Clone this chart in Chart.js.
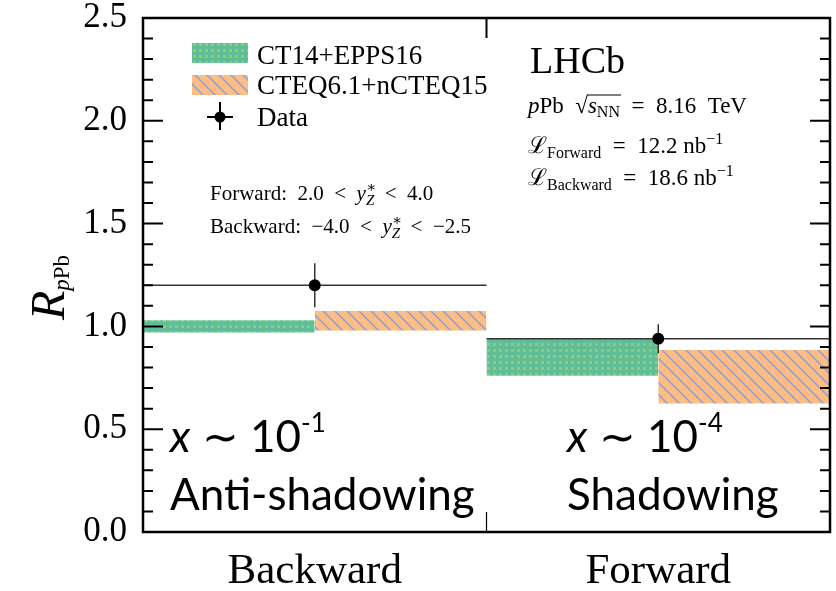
<!DOCTYPE html>
<html>
<head>
<meta charset="utf-8">
<script src="https://cdn.jsdelivr.net/npm/chart.js@4.4.1/dist/chart.umd.min.js"></script>
<style>
  html, body { margin: 0; padding: 0; background: #fff; }
  #wrap { width: 836px; height: 591px; }
</style>
</head>
<body>
<div id="wrap"><canvas id="rpPbChart" width="836" height="591"></canvas></div>
<script>
// data
const categories = ['Backward', 'Forward'];
const binEdges = [0, 1, 2];
const ct14Low = [0.97, 0.76];
const ct14High = [1.03, 0.94];
const ncteqLow = [0.98, 0.625];
const ncteqHigh = [1.075, 0.885];
const dataY = [1.20, 0.94];
const dataErr = [0.107, 0.07];

const SERIF = '"Liberation Serif", "DejaVu Serif", serif';
const SANS = 'Lato, "Open Sans", sans-serif';

function greenPattern() {
    const c = document.createElement('canvas');
    c.width = 6; c.height = 6;
    const g = c.getContext('2d');
    g.fillStyle = '#5fbd98';
    g.fillRect(0, 0, 6, 6);
    g.fillStyle = '#92c972';
    g.fillRect(1, 1, 3, 3);
    return g.createPattern(c, 'repeat');
}

function orangePattern() {
    const c = document.createElement('canvas');
    c.width = 12; c.height = 12;
    const g = c.getContext('2d');
    g.fillStyle = '#fdbe86';
    g.fillRect(0, 0, 12, 12);
    g.strokeStyle = '#98a4d4';
    g.lineWidth = 1.8;
    [-12, 0, 12].forEach(x0 => {
        g.beginPath();
        g.moveTo(x0 - 1, -1);
        g.lineTo(x0 + 13, 13);
        g.stroke();
    });
    return g.createPattern(c, 'repeat');
}

const ctx = document.getElementById('rpPbChart').getContext('2d');
const greenFill = greenPattern();
const orangeFill = orangePattern();

const centers = categories.map((c, i) => (binEdges[i] + binEdges[i + 1]) / 2);

// prediction bands: green fills left half of each bin, orange the right half
const bandSets = [];
categories.forEach((cat, i) => {
    const parts = [
        {x0: binEdges[i], x1: centers[i], lo: ct14Low[i], hi: ct14High[i], fill: greenFill},
        {x0: centers[i], x1: binEdges[i + 1], lo: ncteqLow[i], hi: ncteqHigh[i], fill: orangeFill}
    ];
    parts.forEach(p => {
        bandSets.push({
            data: [{x: p.x0, y: p.hi}, {x: p.x1, y: p.hi}],
            showLine: true, borderWidth: 0, pointRadius: 0,
            fill: '+1', backgroundColor: p.fill, order: 3
        });
        bandSets.push({
            data: [{x: p.x0, y: p.lo}, {x: p.x1, y: p.lo}],
            showLine: true, borderWidth: 0, pointRadius: 0,
            fill: false, order: 3
        });
    });
});

// step lines and error bars built from the arrays
const stepPts = [];
dataY.forEach((v, i) => {
    stepPts.push({x: binEdges[i], y: v}, {x: binEdges[i + 1], y: v}, {x: binEdges[i + 1], y: null});
});
const errPts = [];
dataY.forEach((v, i) => {
    errPts.push({x: centers[i], y: v - dataErr[i]}, {x: centers[i], y: v + dataErr[i]}, {x: centers[i], y: null});
});

function rich(c, x, y, parts) {
    parts.forEach(p => {
        c.font = p.f;
        c.fillText(p.t, x, y + (p.dy || 0));
        if (!p.stay) x += c.measureText(p.t).width;
    });
    return x;
}

const decor = {
    id: 'decor',
    afterDraw(chart) {
        const c = chart.ctx;
        const a = chart.chartArea;
        const ys = chart.scales.y;
        const xs = chart.scales.x;
        c.save();
        c.strokeStyle = '#000';
        c.fillStyle = '#000';
        // frame
        c.lineWidth = 2.5;
        c.strokeRect(a.left, a.top, a.right - a.left, a.bottom - a.top);
        // inward ticks
        c.lineWidth = 2;
        for (let k = 0; k <= 25; k++) {
            const py = ys.getPixelForValue(k / 10);
            const len = k % 5 === 0 ? 20 : 10;
            c.beginPath();
            c.moveTo(a.left, py); c.lineTo(a.left + len, py);
            c.moveTo(a.right, py); c.lineTo(a.right - len, py);
            c.stroke();
        }
        const px = xs.getPixelForValue(binEdges[1]);
        c.beginPath();
        c.moveTo(px, a.top); c.lineTo(px, a.top + 20);
        c.stroke();
        c.lineWidth = 1.2;
        c.beginPath();
        c.moveTo(px, a.bottom); c.lineTo(px, a.bottom - 20);
        c.stroke();

        // legend
        c.fillStyle = greenFill;
        c.fillRect(192, 43, 56, 20);
        c.fillStyle = orangeFill;
        c.fillRect(192, 75, 56, 20);
        c.fillStyle = '#000';
        c.font = '27px ' + SERIF;
        c.textBaseline = 'alphabetic';
        c.fillText('CT14+EPPS16', 257, 64);
        c.fillText('CTEQ6.1+nCTEQ15', 257, 94);
        c.fillText('Data', 257, 126);
        c.lineWidth = 2;
        c.beginPath();
        c.moveTo(207, 117); c.lineTo(233, 117);
        c.moveTo(220, 102); c.lineTo(220, 130);
        c.stroke();
        c.beginPath();
        c.arc(220, 117, 5.5, 0, Math.PI * 2);
        c.fill();

        // rapidity ranges
        const r21 = '21px ' + SERIF, i21 = 'italic 21px ' + SERIF, i15 = 'italic 15px ' + SERIF, r15 = '15px ' + SERIF;
        rich(c, 210, 200, [
            {t: 'Forward:  2.0  <  ', f: r21}, {t: 'y', f: i21},
            {t: '∗', f: r15, dy: -8, stay: true}, {t: 'Z', f: i15, dy: 5},
            {t: '  <  4.0', f: r21}
        ]);
        rich(c, 210, 233, [
            {t: 'Backward:  −4.0  <  ', f: r21}, {t: 'y', f: i21},
            {t: '∗', f: r15, dy: -8, stay: true}, {t: 'Z', f: i15, dy: 5},
            {t: '  <  −2.5', f: r21}
        ]);

        // experiment block
        c.font = '38px ' + SERIF;
        c.fillText('LHCb', 530, 73);
        const r23 = '23px ' + SERIF, i23 = 'italic 23px ' + SERIF, r16 = '16px ' + SERIF;
        let x = rich(c, 528, 113, [{t: 'p', f: i23}, {t: 'Pb  ', f: r23}, {t: '√', f: r23}]);
        const x0 = x;
        x = rich(c, x, 113, [{t: 's', f: i23}, {t: 'NN', f: r16, dy: 4}]);
        c.lineWidth = 1;
        c.beginPath();
        c.moveTo(x0 - 1, 95); c.lineTo(x + 1, 95);
        c.stroke();
        rich(c, x, 113, [{t: '  =  8.16  TeV', f: r23}]);
        rich(c, 528, 153, [{t: 'ℒ', f: r23}, {t: 'Forward', f: r16, dy: 5}, {t: '  =  12.2 nb', f: r23}, {t: '−1', f: r16, dy: -9}]);
        rich(c, 528, 185, [{t: 'ℒ', f: r23}, {t: 'Backward', f: r16, dy: 5}, {t: '  =  18.6 nb', f: r23}, {t: '−1', f: r16, dy: -9}]);

        // physics annotations
        const s44 = '44px ' + SANS, si44 = 'italic 44px ' + SANS, s26 = '26px ' + SANS;
        rich(c, 170, 452, [{t: 'x', f: si44}, {t: ' ∼ 10', f: s44}, {t: '-1', f: s26, dy: -20}]);
        c.font = s44;
        c.fillText('Anti-shadowing', 170, 510);
        rich(c, 567, 452, [{t: 'x', f: si44}, {t: ' ∼ 10', f: s44}, {t: '-4', f: s26, dy: -20}]);
        c.font = s44;
        c.fillText('Shadowing', 567, 510);

        // y axis title
        c.translate(64, 320);
        c.rotate(-Math.PI / 2);
        rich(c, 0, 0, [{t: 'R', f: 'italic 48px ' + SERIF}, {t: 'p', f: 'italic 23px ' + SERIF, dy: 5}, {t: 'Pb', f: '23px ' + SERIF, dy: 5}]);
        c.restore();
    }
};

new Chart(ctx, {
    type: 'scatter',
    data: {
        datasets: [
            {
                label: 'Data',
                data: centers.map((v, i) => ({x: v, y: dataY[i]})),
                pointRadius: 6,
                pointBackgroundColor: '#000',
                pointBorderWidth: 0,
                order: 0
            },
            {
                label: 'step',
                data: stepPts,
                showLine: true,
                borderColor: '#333',
                borderWidth: 1.5,
                pointRadius: 0,
                spanGaps: false,
                order: 1
            },
            {
                label: 'err',
                data: errPts,
                showLine: true,
                borderColor: '#333',
                borderWidth: 1.5,
                pointRadius: 0,
                spanGaps: false,
                order: 1
            }
        ].concat(bandSets)
    },
    options: {
        responsive: false,
        animation: false,
        layout: { padding: { top: 18, right: 6, left: 0, bottom: 0 } },
        plugins: { legend: { display: false }, tooltip: { enabled: false } },
        scales: {
            x: {
                type: 'linear',
                min: 0,
                max: 2,
                grid: { display: false, drawTicks: false },
                border: { display: false },
                afterBuildTicks: s => { s.ticks = centers.map(v => ({value: v})); },
                ticks: {
                    color: '#000',
                    font: { family: SERIF, size: 43 },
                    padding: 14,
                    callback: (v, i) => categories[i]
                },
                afterFit: s => { s.height = 59; s.paddingLeft = 0; s.paddingRight = 0; }
            },
            y: {
                min: 0,
                max: 2.5,
                grid: { display: false, drawTicks: false },
                border: { display: false },
                ticks: {
                    stepSize: 0.5,
                    color: '#000',
                    padding: 16,
                    font: { family: SERIF, size: 35 },
                    callback: v => v.toFixed(1)
                },
                afterFit: s => { s.width = 143; s.paddingTop = 0; s.paddingBottom = 0; }
            }
        }
    },
    plugins: [decor]
});
</script>
</body>
</html>
